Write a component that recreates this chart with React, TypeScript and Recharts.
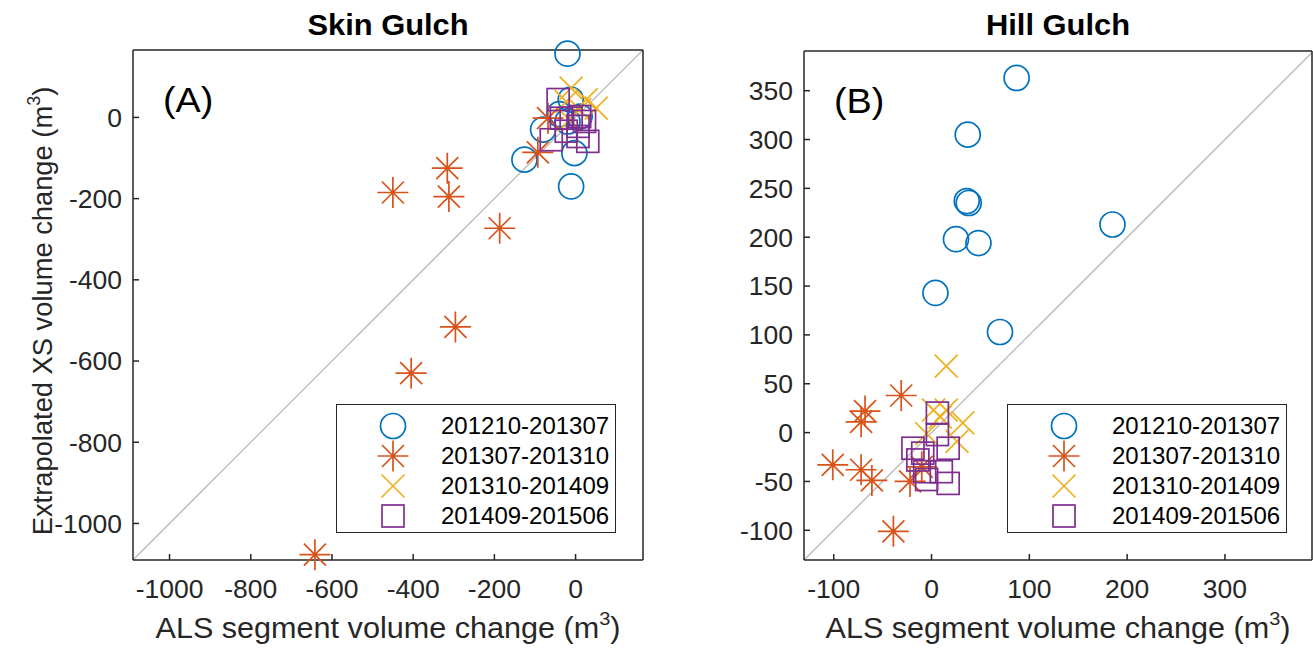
import React from "react";
import { ScatterChart, Scatter, XAxis, YAxis, ReferenceLine, Legend } from "recharts";

const SERIES_NAMES = ["201210-201307", "201307-201310", "201310-201409", "201409-201506"];
const COLORS = ["#0072BD", "#D95319", "#EDB120", "#7E2F8E"];
const KINDS = ["circle", "star", "cross", "square"];

// Skin Gulch (A) - [ALS, extrapolated XS]
const skinA1 = [[-20, 157], [-12, 44], [-80, -30], [-126, -104], [-3, -88], [-11, -170], [10, 2], [-40, 8], [-20, -10]];
const skinA2 = [[-450, -185], [-316, -125], [-312, -195], [-187, -273], [-296, -516], [-405, -630], [-642, -1077], [-93, -86], [-68, -2]];
const skinA3 = [[-11, 72], [26, 44], [51, 23], [-23, 39], [-15, -6], [10, 19]];
const skinA4 = [[-43, 44], [-35, -2], [-11, -2], [10, 2], [22, -10], [-60, -55], [30, -59], [-23, -34], [6, -47], [6, -22]];

// Hill Gulch (B)
const hillB1 = [[87, 363], [37, 305], [36, 237], [38, 235], [25, 198], [48, 194], [185, 213], [4, 143], [70, 103]];
const hillB2 = [[-31, 38], [-68, 22], [-72, 11], [-101, -33], [-72, -38], [-61, -49], [-22, -50], [-39, -101], [-10, -35]];
const hillB3 = [[15, 68], [2, 23], [15, 23], [32, 10], [-5, -1], [26, -9], [9, 16]];
const hillB4 = [[6, 20], [6, -2], [17, -16], [-19, -16], [-9, -21], [-14, -28], [-7, -40], [10, -40], [17, -52], [-5, -48]];

const skinTicks = [-1000, -800, -600, -400, -200, 0];
const skinDomain = [-1090, 166];
const hillXTicks = [-100, 0, 100, 200, 300];
const hillYTicks = [-100, -50, 0, 50, 100, 150, 200, 250, 300, 350];
const hillXDomain = [-130.4, 389];
const hillYDomain = [-130.4, 390.6];

const toPts = (arr: number[][]) => arr.map(([x, y]) => ({ x, y }));

const FONT = "'Liberation Sans', Arial, Helvetica, sans-serif";
const AX = "#262626";

function Marker({ kind, cx, cy, color }: { kind: string; cx: number; cy: number; color: string }) {
  const sw = 1.7;
  if (kind === "circle") return <circle cx={cx} cy={cy} r={12.5} fill="none" stroke={color} strokeWidth={sw} />;
  if (kind === "square")
    return <rect x={cx - 11} y={cy - 11} width={22} height={22} fill="none" stroke={color} strokeWidth={sw} />;
  if (kind === "cross")
    return (
      <path d={`M${cx - 11.5},${cy - 11.5}L${cx + 11.5},${cy + 11.5}M${cx - 11.5},${cy + 11.5}L${cx + 11.5},${cy - 11.5}`} stroke={color} strokeWidth={sw} fill="none" />
    );
  const r = 15.5;
  const d = 11;
  return (
    <path
      d={`M${cx - r},${cy}L${cx + r},${cy}M${cx},${cy - r}L${cx},${cy + r}M${cx - d},${cy - d}L${cx + d},${cy + d}M${cx - d},${cy + d}L${cx + d},${cy - d}`}
      stroke={color}
      strokeWidth={sw}
      fill="none"
    />
  );
}

const noTick = () => <g />;

function LegendBox() {
  return (
    <div style={{ width: 278, height: 127, border: `1.5px solid ${AX}`, background: "#fff", boxSizing: "content-box" }}>
      {SERIES_NAMES.map((name, i) => (
        <div key={name} style={{ position: "relative", height: 30, marginTop: i === 0 ? 6 : 0 }}>
          <svg width={40} height={34} style={{ position: "absolute", left: 36, top: -2 }}>
            <Marker kind={KINDS[i]} cx={20} cy={17} color={COLORS[i]} />
          </svg>
          <span style={{ position: "absolute", left: 104, top: 1, fontFamily: FONT, fontSize: 24, color: "#000", lineHeight: "28px" }}>{name}</span>
        </div>
      ))}
    </div>
  );
}

function Panel({ series, xDomain, yDomain, xTicks, yTicks, margin, width, title, tag, yLabel, legendPos }: any) {
  // axes take 1px each, plot box = margin + 1
  const m = { top: margin.top - 1, left: margin.left - 1, right: margin.right - 1, bottom: margin.bottom - 1 };
  const plotCx = margin.left + (width - margin.left - margin.right) / 2;
  const lo = Math.max(xDomain[0], yDomain[0]);
  const hi = Math.min(xDomain[1], yDomain[1]);
  const axisStyle = { stroke: AX, strokeWidth: 1.5 };
  const tickStyle = { fill: AX, fontSize: 26.5, fontFamily: FONT };
  return (
    <ScatterChart width={width} height={649} margin={m}>
      <XAxis xAxisId="b" orientation="bottom" type="number" dataKey="x" domain={xDomain} ticks={xTicks} height={1}
        tickSize={-6} tickMargin={25} axisLine={axisStyle} tickLine={axisStyle} tick={tickStyle} />
      <XAxis xAxisId="t" orientation="top" type="number" dataKey="x" domain={xDomain} ticks={xTicks} height={1}
        tickSize={-6} axisLine={axisStyle} tickLine={axisStyle} tick={noTick} />
      <YAxis yAxisId="l" orientation="left" type="number" dataKey="y" domain={yDomain} ticks={yTicks} width={1}
        tickSize={-6} tickMargin={17} axisLine={axisStyle} tickLine={axisStyle} tick={tickStyle} />
      <YAxis yAxisId="r" orientation="right" type="number" dataKey="y" domain={yDomain} ticks={yTicks} width={1}
        tickSize={-6} axisLine={axisStyle} tickLine={axisStyle} tick={noTick} />
      <ReferenceLine xAxisId="b" yAxisId="l" segment={[{ x: lo, y: lo }, { x: hi, y: hi }]} stroke="#bdbdbd" strokeWidth={1.5} />
      {series.map((pts: number[][], i: number) => (
        <Scatter key={i} name={SERIES_NAMES[i]} xAxisId="b" yAxisId="l" data={toPts(pts)} fill={COLORS[i]} isAnimationActive={false}
          shape={(p: any) => <Marker kind={KINDS[i]} cx={p.cx} cy={p.cy} color={COLORS[i]} />} />
      ))}
      <Legend layout="vertical" align="center" verticalAlign="middle" content={() => <LegendBox />}
        wrapperStyle={{ position: "absolute", left: legendPos[0], top: legendPos[1], width: 281, height: 130 }} />
      <text transform={`translate(${plotCx},35) scale(1.065,1)`} textAnchor="middle" fontFamily={FONT} fontSize={29} fontWeight="bold" fill="#000">{title}</text>
      <text transform={`translate(${margin.left + 30},${margin.top + 62}) scale(1.08,1)`} fontFamily={FONT} fontSize={35} fill="#000">{tag}</text>
      <text transform={`translate(${plotCx},638) scale(1.055,1)`} textAnchor="middle" fontFamily={FONT} fontSize={29} fill={AX}>
        ALS segment volume change (m<tspan fontSize={19} dy={-13}>3</tspan><tspan dy={13}>)</tspan>
      </text>
      {yLabel && (
        <text x={52} y={311} transform="rotate(-90 52 311)" textAnchor="middle" fontFamily={FONT} fontSize={27.3} fill={AX}>
          Extrapolated XS volume change (m<tspan fontSize={18} dy={-12}>3</tspan><tspan dy={12}>)</tspan>
        </text>
      )}
    </ScatterChart>
  );
}

export default function App() {
  return (
    <div style={{ position: "absolute", left: 0, top: 0, width: 1313, height: 649, background: "#fff" }}>
      <div style={{ position: "absolute", left: 0, top: 0 }}>
        <Panel series={[skinA1, skinA2, skinA3, skinA4]} xDomain={skinDomain} yDomain={skinDomain} xTicks={skinTicks} yTicks={skinTicks}
          margin={{ top: 50, left: 133, right: 17, bottom: 89 }} width={660} title="Skin Gulch" tag="(A)" yLabel legendPos={[336, 404]} />
      </div>
      <div style={{ position: "absolute", left: 660, top: 0 }}>
        <Panel series={[hillB1, hillB2, hillB3, hillB4]} xDomain={hillXDomain} yDomain={hillYDomain} xTicks={hillXTicks} yTicks={hillYTicks}
          margin={{ top: 51, left: 144, right: 1, bottom: 89 }} width={653} title="Hill Gulch" tag="(B)" yLabel={false} legendPos={[347, 404]} />
      </div>
    </div>
  );
}
